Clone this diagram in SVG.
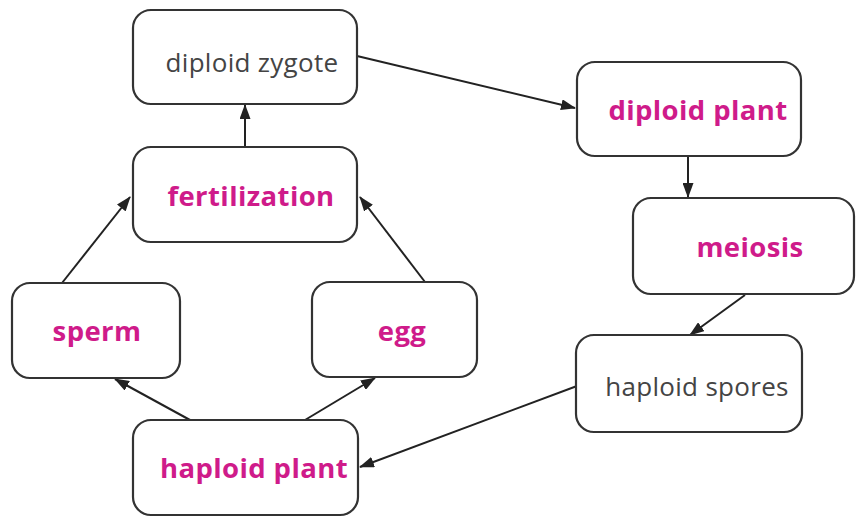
<svg xmlns="http://www.w3.org/2000/svg" width="856" height="518" viewBox="0 0 856 518">
  <defs>
    <marker id="arrow" viewBox="0 0 15 11" refX="14" refY="5.5" markerWidth="15" markerHeight="11" markerUnits="userSpaceOnUse" orient="auto">
      <path d="M0,0 L15,5.5 L0,11 Z" fill="#222"/>
    </marker>
    <style>
      .box { fill: #fff; stroke: #333; stroke-width: 2.2; }
      .lbl { font-family: "Open Sans", "Liberation Sans", sans-serif; text-anchor: middle; }
      .key { fill: #cf1b8a; font-weight: 700; font-size: 27.5px; letter-spacing: 0.4px; }
      .plain { fill: #444; font-weight: 400; font-size: 26px; letter-spacing: 0.3px; }
      .conn { fill: none; stroke: #222; stroke-width: 2; marker-end: url(#arrow); }
    </style>
  </defs>
  <rect width="856" height="518" fill="#fff"/>

  <g id="connectors">
    <line class="conn" x1="357" y1="56" x2="575" y2="108"/>
    <line class="conn" x1="688" y1="157" x2="688" y2="197"/>
    <line class="conn" x1="745" y1="295" x2="690" y2="335"/>
    <line class="conn" x1="577" y1="386" x2="360" y2="467"/>
    <line class="conn" x1="190" y1="420" x2="115" y2="379"/>
    <line class="conn" x1="305" y1="420" x2="375" y2="378"/>
    <line class="conn" x1="62" y1="283" x2="130" y2="197"/>
    <line class="conn" x1="425" y1="282" x2="360" y2="197"/>
    <line class="conn" x1="245" y1="147" x2="245" y2="105"/>
  </g>

  <g id="diploid-zygote">
    <rect class="box" x="133" y="10" width="224" height="94" rx="18"/>
    <text class="lbl plain" x="252" y="72">diploid zygote</text>
  </g>
  <g id="diploid-plant">
    <rect class="box" x="577" y="62" width="224" height="94" rx="18"/>
    <text class="lbl key" x="698" y="120">diploid plant</text>
  </g>
  <g id="meiosis">
    <rect class="box" x="633" y="198" width="221" height="96" rx="18"/>
    <text class="lbl key" x="750" y="257">meiosis</text>
  </g>
  <g id="haploid-spores">
    <rect class="box" x="576" y="335" width="226" height="97" rx="18"/>
    <text class="lbl plain" x="697" y="396">haploid spores</text>
  </g>
  <g id="haploid-plant">
    <rect class="box" x="133" y="420" width="225" height="95" rx="18"/>
    <text class="lbl key" x="254" y="478">haploid plant</text>
  </g>
  <g id="sperm">
    <rect class="box" x="12" y="283" width="168" height="95" rx="18"/>
    <text class="lbl key" x="97" y="341">sperm</text>
  </g>
  <g id="egg">
    <rect class="box" x="312" y="282" width="165" height="95" rx="18"/>
    <text class="lbl key" x="402" y="341">egg</text>
  </g>
  <g id="fertilization">
    <rect class="box" x="133" y="147" width="224" height="95" rx="18"/>
    <text class="lbl key" x="251" y="206">fertilization</text>
  </g>
</svg>
